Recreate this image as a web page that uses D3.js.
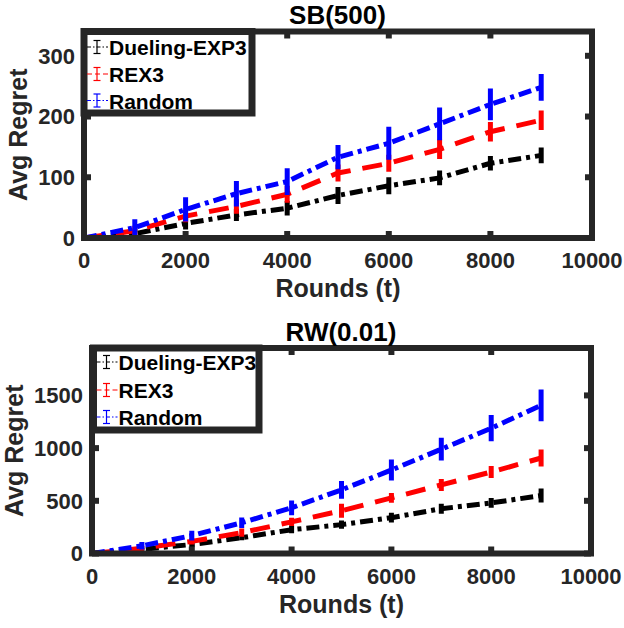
<!DOCTYPE html>
<html>
<head>
<meta charset="utf-8">
<script src="https://cdn.jsdelivr.net/npm/d3@7"></script>
<style>
  html, body { margin: 0; padding: 0; background: #ffffff; }
  svg { display: block; }
  text { font-family: "Liberation Sans", Arial, Helvetica, sans-serif; font-weight: bold; }
</style>
</head>
<body>
<script>
// ---------------- data ----------------
const rounds = [0, 1000, 2000, 3000, 4000, 5000, 6000, 7000, 8000, 9000];
const xTicks = [0, 2000, 4000, 6000, 8000, 10000];
const seriesNames = ["Dueling-EXP3", "REX3", "Random"];

// SB(500)
const sbYTicks = [0, 100, 200, 300];
const sbDueling    = [0, 7, 24, 38, 49, 70, 86, 99, 123, 136];
const sbDuelingErr = [0, 8, 10, 10, 12, 14, 14, 12, 12, 13];
const sbRex3       = [0, 12, 36, 52, 72, 107, 123, 146, 175, 194];
const sbRex3Err    = [0, 8, 10, 12, 14, 14, 14, 16, 16, 16];
const sbRandom     = [0, 17, 47, 73, 93, 133, 156, 188, 220, 248];
const sbRandomErr  = [0, 14, 20, 21, 22, 20, 27, 27, 26, 22];

// RW(0.01)
const rwYTicks = [0, 500, 1000, 1500];
const rwDueling    = [0, 40, 85, 150, 226, 274, 340, 425, 480, 550];
const rwDuelingErr = [0, 15, 25, 25, 35, 38, 47, 47, 47, 66];
const rwRex3       = [0, 50, 115, 198, 300, 406, 528, 651, 773, 906];
const rwRex3Err    = [0, 20, 30, 40, 40, 66, 47, 57, 57, 80];
const rwRandom     = [0, 73, 170, 292, 434, 604, 792, 990, 1189, 1406];
const rwRandomErr  = [0, 35, 47, 50, 70, 85, 100, 108, 125, 150];

// ---------------- styles ----------------
const colors = ["#000000", "#ff0000", "#0000ff"];
const dashes = ["13,5,4,5", "20,12", "13,5,4,5"];
const legendDashes = ["4,2,1.5,2", "5,3", "4,2,1.5,2"];
const axisColor = "#262626";

const W = 624, H = 628;
const svg = d3.select("body").append("svg").attr("width", W).attr("height", H);
svg.append("rect").attr("width", W).attr("height", H).attr("fill", "#fff");

function drawPanel(cfg) {
  const x = d3.scaleLinear().domain([0, 10000]).range([cfg.x0, cfg.x1]);
  const y = d3.scaleLinear().domain([0, cfg.ymax]).range([cfg.yb, cfg.yt]);
  const g = svg.append("g");
  const clipId = "clip" + cfg.id;
  svg.append("clipPath").attr("id", clipId).append("rect")
    .attr("x", cfg.x0).attr("y", cfg.yt).attr("width", cfg.x1 - cfg.x0).attr("height", cfg.yb - cfg.yt);

  const plot = g.append("g").attr("clip-path", `url(#${clipId})`);
  const line = d3.line().x((d, i) => x(rounds[i])).y(d => y(d));
  cfg.series.forEach((s, k) => {
    plot.append("path").datum(s.v)
      .attr("d", line).attr("fill", "none")
      .attr("stroke", colors[k]).attr("stroke-width", 5)
      .attr("stroke-dasharray", dashes[k]);
    plot.selectAll(null).data(s.v).enter().append("line")
      .attr("x1", (d, i) => x(rounds[i])).attr("x2", (d, i) => x(rounds[i]))
      .attr("y1", (d, i) => y(d - s.e[i])).attr("y2", (d, i) => y(d + s.e[i]))
      .attr("stroke", colors[k]).attr("stroke-width", 5);
  });

  // ticks (inward, on all four sides)
  const tl = 7;
  xTicks.forEach(t => {
    g.append("line").attr("x1", x(t)).attr("x2", x(t)).attr("y1", cfg.yb).attr("y2", cfg.yb - tl)
      .attr("stroke", axisColor).attr("stroke-width", 6);
    g.append("line").attr("x1", x(t)).attr("x2", x(t)).attr("y1", cfg.yt).attr("y2", cfg.yt + tl)
      .attr("stroke", axisColor).attr("stroke-width", 6);
  });
  cfg.yTicks.forEach(t => {
    g.append("line").attr("x1", cfg.x0).attr("x2", cfg.x0 + tl).attr("y1", y(t)).attr("y2", y(t))
      .attr("stroke", axisColor).attr("stroke-width", 6);
    g.append("line").attr("x1", cfg.x1).attr("x2", cfg.x1 - tl).attr("y1", y(t)).attr("y2", y(t))
      .attr("stroke", axisColor).attr("stroke-width", 6);
  });
  // box
  g.append("rect").attr("x", cfg.x0).attr("y", cfg.yt)
    .attr("width", cfg.x1 - cfg.x0).attr("height", cfg.yb - cfg.yt)
    .attr("fill", "none").attr("stroke", axisColor).attr("stroke-width", 6);

  // tick labels
  const fs = 22;
  g.selectAll(null).data(xTicks).enter().append("text")
    .attr("x", d => x(d)).attr("y", cfg.yb + 30)
    .attr("text-anchor", "middle").attr("font-size", fs).attr("fill", axisColor)
    .text(d => d);
  g.selectAll(null).data(cfg.yTicks).enter().append("text")
    .attr("x", cfg.x0 - 9).attr("y", d => y(d) + fs * 0.36)
    .attr("text-anchor", "end").attr("font-size", fs).attr("fill", axisColor)
    .text(d => d);

  // labels and title
  g.append("text").attr("x", (cfg.x0 + cfg.x1) / 2).attr("y", cfg.yb + 59)
    .attr("text-anchor", "middle").attr("font-size", 25).attr("fill", axisColor)
    .text("Rounds (t)");
  g.append("text")
    .attr("transform", `translate(${cfg.ylabX},${(cfg.yt + cfg.yb) / 2}) rotate(-90)`)
    .attr("text-anchor", "middle").attr("font-size", 25).attr("fill", axisColor)
    .text("Avg Regret");
  g.append("text").attr("x", (cfg.x0 + cfg.x1) / 2 - 0.5).attr("y", cfg.yt - 7.5)
    .attr("text-anchor", "middle").attr("font-size", 26).attr("fill", "#000")
    .text(cfg.title);

  // legend
  const L = cfg.legend;
  const lg = g.append("g");
  lg.append("rect").attr("x", L.x0).attr("y", L.y0).attr("width", L.x1 - L.x0).attr("height", L.y1 - L.y0)
    .attr("fill", "#fff").attr("stroke", axisColor).attr("stroke-width", 7);
  seriesNames.forEach((name, k) => {
    const base = L.y0 + L.rows[k];
    const cy = base - 8;
    const cx = L.x0 + 13;
    lg.append("line").attr("x1", L.x0 + 3).attr("x2", L.x0 + 24).attr("y1", cy).attr("y2", cy)
      .attr("stroke", colors[k]).attr("stroke-width", 1.2).attr("stroke-dasharray", legendDashes[k]);
    lg.append("line").attr("x1", cx).attr("x2", cx).attr("y1", cy - 6.5).attr("y2", cy + 6.5)
      .attr("stroke", colors[k]).attr("stroke-width", 1.2);
    [cy - 6.5, cy + 6.5].forEach(yy => {
      lg.append("line").attr("x1", cx - 3.5).attr("x2", cx + 3.5).attr("y1", yy).attr("y2", yy)
        .attr("stroke", colors[k]).attr("stroke-width", 1.2);
    });
    lg.append("text").attr("x", L.x0 + 25).attr("y", base)
      .attr("font-size", 21).attr("fill", "#000").text(name);
  });
}

drawPanel({
  id: 1, title: "SB(500)",
  x0: 84, x1: 592, yt: 31.5, yb: 238, ymax: 340, yTicks: sbYTicks, ylabX: 27,
  series: [
    { v: sbDueling, e: sbDuelingErr },
    { v: sbRex3, e: sbRex3Err },
    { v: sbRandom, e: sbRandomErr }
  ],
  legend: { x0: 84, x1: 252, y0: 31.5, y1: 113, rows: [23.5, 50.5, 77] }
});

drawPanel({
  id: 2, title: "RW(0.01)",
  x0: 92, x1: 591, yt: 348, yb: 553.5, ymax: 1950, yTicks: rwYTicks, ylabX: 23,
  series: [
    { v: rwDueling, e: rwDuelingErr },
    { v: rwRex3, e: rwRex3Err },
    { v: rwRandom, e: rwRandomErr }
  ],
  legend: { x0: 93.5, x1: 259, y0: 348, y1: 430, rows: [22, 50, 77] }
});
</script>
</body>
</html>
